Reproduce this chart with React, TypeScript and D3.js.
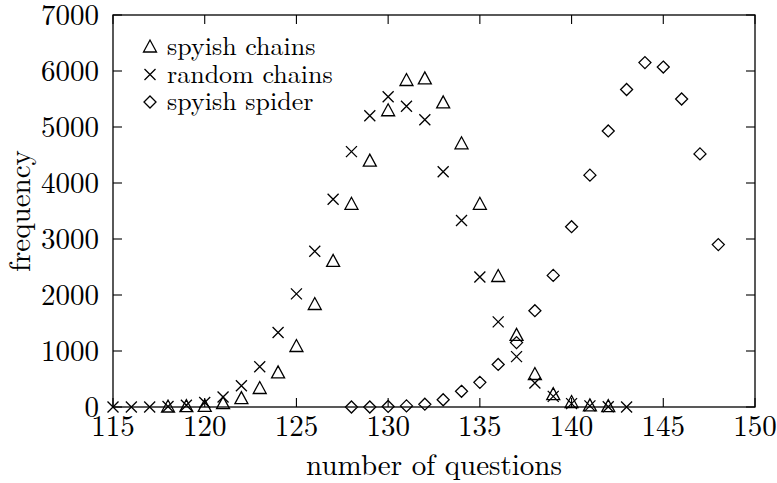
import * as d3 from "d3";

const chainsX = d3.range(118, 143);
const spyishChains = [
  0, 5, 10, 60, 150, 330, 610, 1080, 1830, 2600, 3620, 4390, 5290, 5830, 5860,
  5430, 4700, 3620, 2330, 1280, 580, 220, 80, 20, 5,
];
const randomX = d3.range(115, 144);
const randomChains = [
  0, 0, 0, 10, 30, 80, 180, 380, 720, 1330, 2020, 2780, 3710, 4560, 5200, 5540,
  5370, 5130, 4200, 3330, 2320, 1520, 900, 430, 190, 60, 20, 5, 0,
];
const spiderX = d3.range(128, 149);
const spyishSpider = [
  0, 0, 10, 20, 50, 130, 280, 440, 760, 1150, 1720, 2350, 3220, 4140, 4930,
  5670, 6150, 6070, 5500, 4520, 2900,
];
const xTicks = [115, 120, 125, 130, 135, 140, 145, 150];
const yTicks = [0, 1000, 2000, 3000, 4000, 5000, 6000, 7000];
const legendLabels = ["spyish chains", "random chains", "spyish spider"];

const W = 777;
const H = 483;
const left = 113;
const right = 755;
const top = 15;
const bottom = 407;
const font = "'Latin Modern Roman', 'CMU Serif', 'DejaVu Serif', serif";
const fs = 29;

type Kind = "tri" | "cross" | "diamond";

function marker(kind: Kind, x: number, y: number) {
  if (kind === "tri") {
    return `M${x - 6.5},${y + 5}L${x + 6.5},${y + 5}L${x},${y - 7}Z`;
  }
  if (kind === "cross") {
    const s = 5.5;
    return `M${x - s},${y - s}L${x + s},${y + s}M${x - s},${y + s}L${x + s},${y - s}`;
  }
  const s = 6;
  return `M${x},${y - s}L${x + s},${y}L${x},${y + s}L${x - s},${y}Z`;
}

export default function App() {
  const x = d3.scaleLinear().domain([115, 150]).range([left, right]);
  const y = d3.scaleLinear().domain([0, 7000]).range([bottom, top]);

  const series: { kind: Kind; xs: number[]; ys: number[] }[] = [
    { kind: "tri", xs: chainsX, ys: spyishChains },
    { kind: "cross", xs: randomX, ys: randomChains },
    { kind: "diamond", xs: spiderX, ys: spyishSpider },
  ];

  return (
    <svg
      width={W}
      height={H}
      style={{ position: "absolute", left: 0, top: 0, background: "#fff" }}
      fontFamily={font}
    >
      <rect
        x={left}
        y={top}
        width={right - left}
        height={bottom - top}
        fill="none"
        stroke="#000"
        strokeWidth={1.3}
      />
      {xTicks.map((t) => (
        <g key={"x" + t}>
          <line x1={x(t)} x2={x(t)} y1={bottom} y2={bottom - 9} stroke="#000" strokeWidth={1.1} />
          <line x1={x(t)} x2={x(t)} y1={top} y2={top + 9} stroke="#000" strokeWidth={1.1} />
          <text x={x(t)} y={bottom + 29} textAnchor="middle" fontSize={fs}>
            {t}
          </text>
        </g>
      ))}
      {yTicks.map((t) => (
        <g key={"y" + t}>
          <line x1={left} x2={left + 9} y1={y(t)} y2={y(t)} stroke="#000" strokeWidth={1.1} />
          <line x1={right} x2={right - 9} y1={y(t)} y2={y(t)} stroke="#000" strokeWidth={1.1} />
          <text x={99} y={y(t) + 10} textAnchor="end" fontSize={fs}>
            {t}
          </text>
        </g>
      ))}
      <text x={(left + right) / 2} y={475} textAnchor="middle" fontSize={fs}>
        number of questions
      </text>
      <text
        transform={`translate(30,${(top + bottom) / 2}) rotate(-90)`}
        textAnchor="middle"
        fontSize={fs}
      >
        frequency
      </text>
      {series.map((s) => (
        <path
          key={s.kind}
          d={s.ys.map((v, i) => marker(s.kind, x(s.xs[i]), y(v))).join("")}
          fill="none"
          stroke="#000"
          strokeWidth={1.3}
        />
      ))}
      {series.map((s, i) => (
        <g key={"l" + s.kind}>
          <path
            d={marker(s.kind, 150, 47 + i * 27.5)}
            fill="none"
            stroke="#000"
            strokeWidth={1.3}
          />
          <text x={167} y={47 + i * 27.5 + 8} fontSize={26}>
            {legendLabels[i]}
          </text>
        </g>
      ))}
    </svg>
  );
}
